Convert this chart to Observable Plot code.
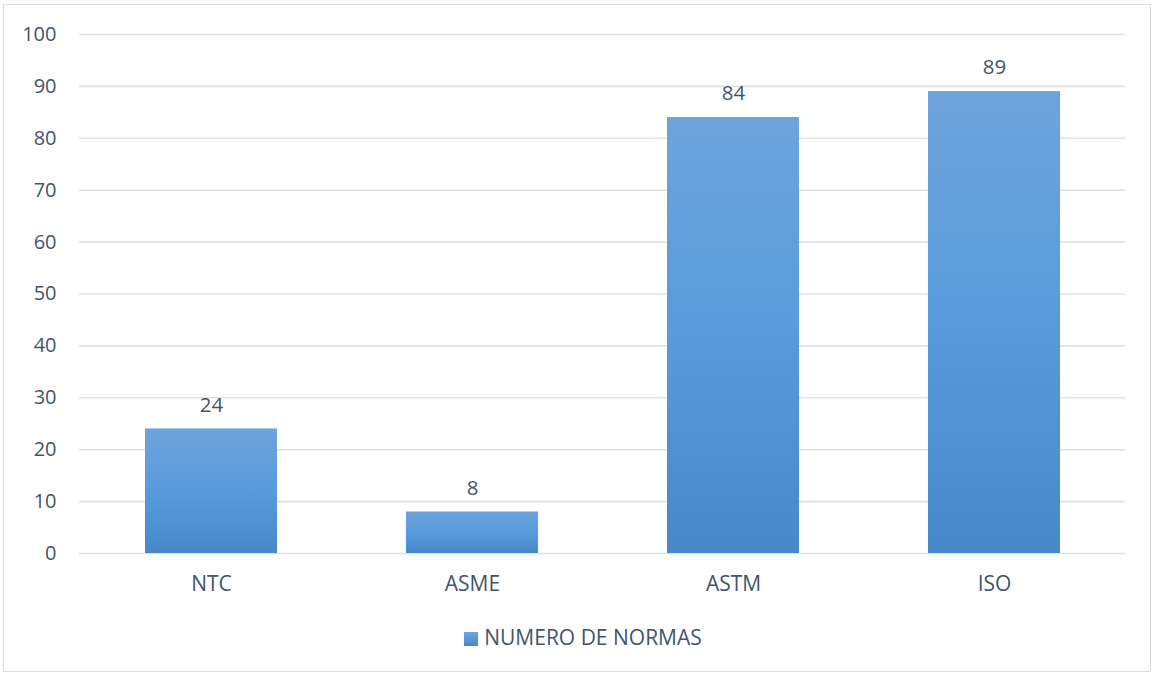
<!DOCTYPE html>
<html><head><meta charset="utf-8">
<script src="https://cdn.jsdelivr.net/npm/d3@7"></script>
<script src="https://cdn.jsdelivr.net/npm/@observablehq/plot@0.6"></script>
<style>
body{margin:0;background:#fff;font-family:"Open Sans",sans-serif}
#wrap{position:relative;width:1154px;height:675px;overflow:hidden}
#frame{position:absolute;left:3px;top:4px;width:1148px;height:668px;border:1.5px solid #d9dde3;box-sizing:border-box}
#chart{position:absolute;left:0;top:0}
#legend{position:absolute;left:6px;width:1154px;top:624px;text-align:center;font-size:21px;color:#44546a;line-height:26px}
#legend .sw{display:inline-block;width:14px;height:14px;background:linear-gradient(#6ea4db,#4589c8);margin-right:6px;vertical-align:-1px}
</style></head>
<body><div id="wrap"><div id="frame"></div><div id="chart"></div><div id="legend"><span class="sw"></span>NUMERO DE NORMAS</div></div>
<script>
const categories = ["NTC", "ASME", "ASTM", "ISO"];
const values = [24, 8, 84, 89];
const yTicks = [0, 10, 20, 30, 40, 50, 60, 70, 80, 90, 100];
const seriesName = "NUMERO DE NORMAS";

const data = categories.map((c, i) => ({cat: c, value: values[i]}));
const textColor = "#44546a";

const plot = Plot.plot({
  width: 1154,
  height: 600,
  marginTop: 34,
  marginBottom: 47,
  marginLeft: 79,
  marginRight: 29,
  style: {fontFamily: "'Open Sans', sans-serif", fontSize: "20px", color: textColor, background: "transparent"},
  x: {domain: categories, paddingInner: 0.495, paddingOuter: 0.25, label: null},
  y: {domain: [0, 100], label: null},
  marks: [
    Plot.gridY(yTicks, {stroke: "#dde1e7", strokeOpacity: 1, strokeWidth: 1.6}),
    Plot.barY(data, {x: "cat", y: "value", fill: "url(#barGrad)"}),
    Plot.text(data, {x: "cat", y: "value", text: d => String(d.value), dy: -24, fill: textColor, fontSize: 20.5}),
    Plot.axisY({ticks: yTicks, tickSize: 0, tickPadding: 23, fontSize: 20, fill: textColor, label: null}),
    Plot.axisX({tickSize: 0, tickPadding: 23, fontSize: 21, fill: textColor, label: null})
  ]
});
const svg = d3.select(plot);
const defs = svg.insert("defs", ":first-child");
const g = defs.append("linearGradient").attr("id", "barGrad").attr("x1", 0).attr("y1", 0).attr("x2", 0).attr("y2", 1);
g.append("stop").attr("offset", "0%").attr("stop-color", "#6ea4db");
g.append("stop").attr("offset", "50%").attr("stop-color", "#579bdc");
g.append("stop").attr("offset", "100%").attr("stop-color", "#4589c8");
document.getElementById("chart").appendChild(plot);
</script></body></html>
